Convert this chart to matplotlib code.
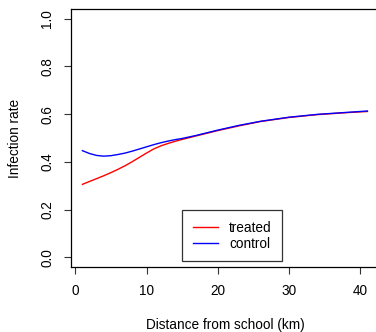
import matplotlib
matplotlib.use("Agg")
import matplotlib.pyplot as plt

distance = [1, 2, 3, 4, 5, 6, 7, 8, 9, 10, 11, 12, 13, 14, 15, 17, 20, 23, 26, 30, 34, 38, 41]
treated = [0.306, 0.318, 0.330, 0.342, 0.355, 0.369, 0.384, 0.401, 0.419, 0.437, 0.454, 0.467,
           0.477, 0.486, 0.494, 0.509, 0.531, 0.551, 0.569, 0.586, 0.598, 0.606, 0.611]
control = [0.447, 0.435, 0.427, 0.424, 0.426, 0.431, 0.437, 0.445, 0.454, 0.463, 0.472, 0.480,
           0.487, 0.493, 0.498, 0.511, 0.533, 0.553, 0.570, 0.587, 0.599, 0.607, 0.613]
xticks = [0, 10, 20, 30, 40]
yticks = [0.0, 0.2, 0.4, 0.6, 0.8, 1.0]
ytick_labels = ["0.0", "0.2", "0.4", "0.6", "0.8", "1.0"]

plt.rcParams['font.family'] = ['Liberation Sans', 'DejaVu Sans']
fs = 9.8

W, H = 376, 332
fig = plt.figure(figsize=(W / 100, H / 100), dpi=100)
left, right, top, bottom = 71, 378.8, 9, 267
ax = fig.add_axes([left / W, 1 - bottom / H, (right - left) / W, (bottom - top) / H])

ax.plot(distance, treated, color='#FF0000', lw=1.0, label='treated')
ax.plot(distance, control, color='#0000FF', lw=1.0, label='control')

ax.set_xlim(-0.6, 42.6)
ax.set_ylim(-0.04, 1.04)
ax.set_xticks(xticks)
ax.set_xticklabels([str(t) for t in xticks], fontsize=fs)
ax.set_yticks(yticks)
ax.set_yticklabels(ytick_labels, fontsize=fs, rotation=90, va='center')
ax.tick_params(axis='both', length=5, width=0.8, color='#333333', pad=7)

for s in ax.spines.values():
    s.set_linewidth(0.9)
    s.set_color('black')

fig.text(15 / W, 1 - 138 / H, 'Infection rate', rotation=90, ha='center', va='center', fontsize=fs)
fig.text(225 / W, 1 - 325 / H, 'Distance from school (km)', ha='center', va='center', fontsize=fs)

leg = ax.legend(loc='upper left', bbox_to_anchor=((182.3 - left) / (right - left), (bottom - 210.3) / (bottom - top)),
                borderaxespad=0, fontsize=fs, frameon=True, fancybox=False, handlelength=1.85,
                handletextpad=0.85, borderpad=0.75, labelspacing=0.15)
leg.get_frame().set_edgecolor('black')
leg.get_frame().set_linewidth(0.9)

fig.savefig('out.png', dpi=100)
